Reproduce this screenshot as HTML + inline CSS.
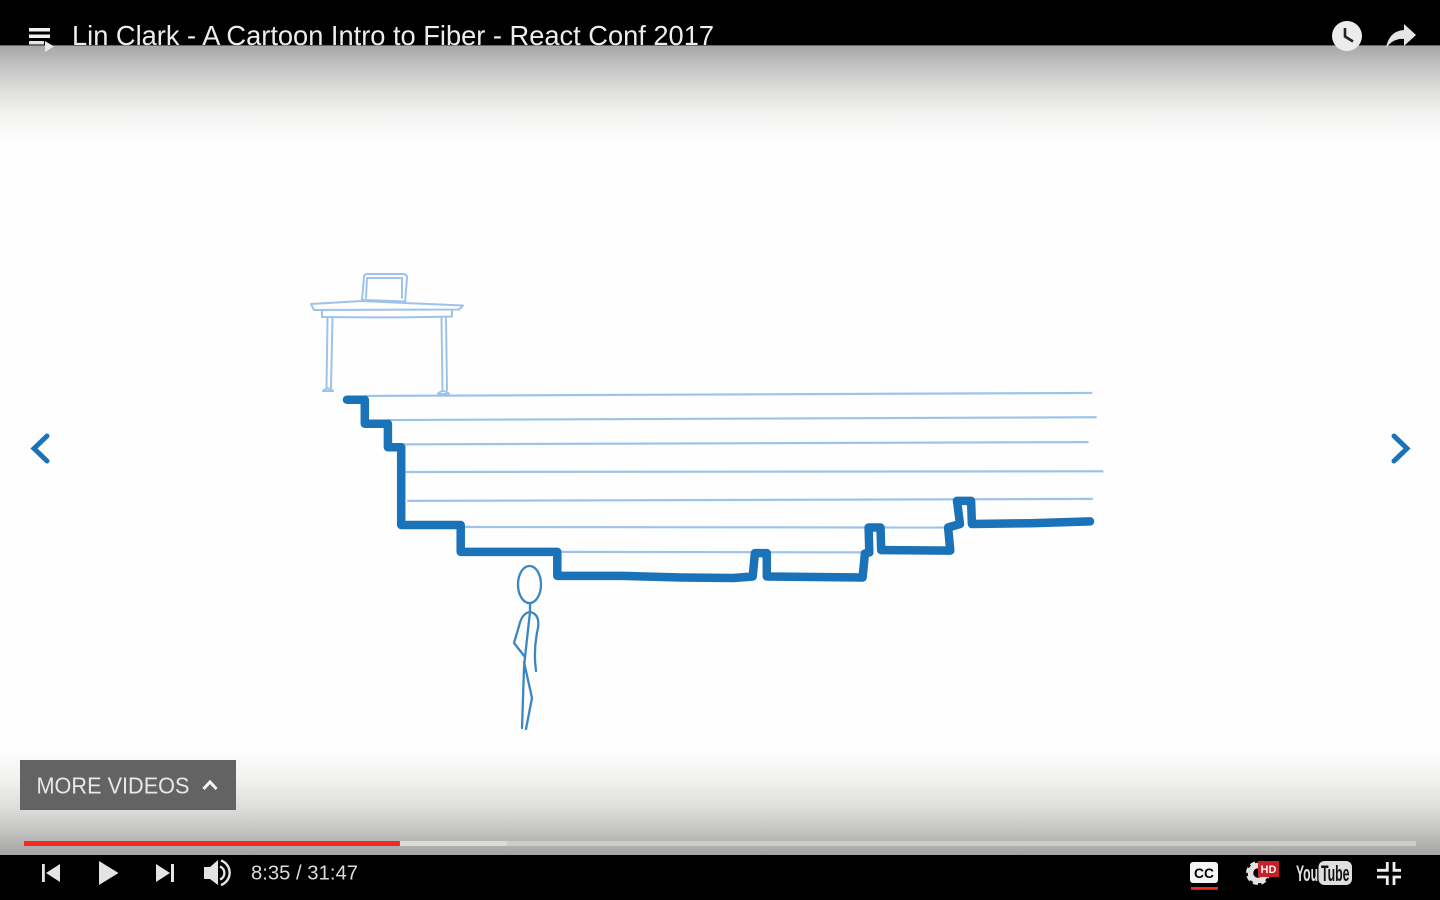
<!DOCTYPE html>
<html lang="en">
<head>
<meta charset="utf-8">
<title>Lin Clark - A Cartoon Intro to Fiber - React Conf 2017</title>
<style>
  html, body { margin: 0; padding: 0; background: #fdfefd; }
  body { width: 1440px; height: 900px; overflow: hidden; }
  svg { display: block; font-family: "Liberation Sans", sans-serif; }
</style>
</head>
<body>
<svg xmlns="http://www.w3.org/2000/svg" width="1440" height="900" viewBox="0 0 1440 900">
  <defs>
    <linearGradient id="topShade" x1="0" y1="0" x2="0" y2="1">
      <stop offset="0" stop-color="#a6a7a6"/>
      <stop offset="0.2" stop-color="#c0c1c0"/>
      <stop offset="0.45" stop-color="#dddedc"/>
      <stop offset="0.7" stop-color="#f2f3f1"/>
      <stop offset="1" stop-color="#fdfefd"/>
    </linearGradient>
    <linearGradient id="bottomShade" x1="0" y1="0" x2="0" y2="1">
      <stop offset="0" stop-color="#fdfefd"/>
      <stop offset="0.3" stop-color="#f0f1ef"/>
      <stop offset="0.6" stop-color="#d9dad8"/>
      <stop offset="0.85" stop-color="#b8b9b7"/>
      <stop offset="1" stop-color="#a3a4a3"/>
    </linearGradient>
  </defs>

  <rect x="0" y="0" width="1440" height="900" fill="#fdfefd"/>
  <rect x="0" y="46" width="1440" height="96" fill="url(#topShade)"/>
  <rect x="0" y="750" width="1440" height="105" fill="url(#bottomShade)"/>

  <!-- desk and laptop -->
  <g fill="none" stroke="#9ec3eb" stroke-width="2" stroke-linejoin="round" stroke-linecap="round">
    <path d="M311 304 L362 301 L405 303 L463 305.500 L459 309.500 L314 310 Z"/>
    <path d="M322 311 L322 317 Q390 318 452 316.500 L452 311"/>
    <path d="M327.500 318 L326.500 388 M332.500 318 L331 388 M323 391 Q328 386 333 391 Z"/>
    <path d="M441.500 318 L442.500 390 M446 318 L447 390 M438 394 Q443 388 449 394 Z"/>
    <path d="M362 300 L364 277 Q364 274 368 274 L403 274 Q407 274 407 278 L405 303"/>
    <path d="M366 298 L367 278 L402 278 L402 298"/>
    <path d="M363 300.500 L405 302" stroke-width="3"/>
  </g>

  <!-- stack chart: rows and trace are drawn by the script -->
  <g id="rows"></g>
  <path id="trace" fill="none" stroke="#1a72b8" stroke-width="8.500" stroke-linejoin="round" stroke-linecap="round"></path>

  <!-- stick figure -->
  <g fill="none" stroke="#3c87c2" stroke-width="2.300" stroke-linecap="round" stroke-linejoin="round">
    <ellipse cx="529.500" cy="584.500" rx="11.500" ry="18.500"/>
    <path d="M530 603 L530 612 L525 657 L524 668 L522 728"/>
    <path d="M530 612 Q522 613 519 626 L514 643 L525 657"/>
    <path d="M530 612 Q540 614 538 628 Q533 650 536 671"/>
    <path d="M524 662 L532 698 L526 729"/>
  </g>

  <!-- slide arrows -->
  <path d="M47 436 L34 448.500 L47 461" fill="none" stroke="#1a72b8" stroke-width="5" stroke-linecap="round"/>
  <path d="M1394 436 L1407 448.500 L1394 461" fill="none" stroke="#1a72b8" stroke-width="5" stroke-linecap="round"/>

  <!-- top bar -->
  <rect x="0" y="0" width="1440" height="46" fill="#000"/>
  <rect x="0" y="45" width="1440" height="1" fill="#666"/>
  <g>
    <rect x="29" y="28" width="21" height="3.500" fill="#f1f1f1"/>
    <rect x="29" y="34.500" width="21" height="3.500" fill="#f1f1f1"/>
    <rect x="29" y="41" width="15" height="3.500" fill="#e6e6e6"/>
    <path d="M45 41 L54 46.500 L45 52 Z" fill="#e8e8e8"/>
  </g>
  <text x="72" y="45" font-size="27.500" fill="#ededed" textLength="642" lengthAdjust="spacingAndGlyphs">Lin Clark - A Cartoon Intro to Fiber - React Conf 2017</text>
  <g>
    <circle cx="1347" cy="36" r="15" fill="#ececec"/>
    <path d="M1345 28 L1345 36.500 L1353 41.500" fill="none" stroke="#222" stroke-width="2.600"/>
  </g>
  <path d="M1404 24 L1416 35 L1404 46 L1404 39 Q1393 38 1386 48 Q1389 31 1404 30 Z" fill="#e4e4e4"/>

  <!-- more videos -->
  <rect x="20" y="760" width="216" height="50" fill="#636363"/>
  <text x="36.500" y="793.500" font-size="23.500" fill="#e8e8e8" textLength="153" lengthAdjust="spacingAndGlyphs">MORE VIDEOS</text>
  <path d="M203.500 789 L210 782 L216.500 789" fill="none" stroke="#f4f4f4" stroke-width="3"/>

  <!-- progress bar -->
  <g id="progress"></g>

  <!-- bottom controls -->
  <rect x="0" y="855" width="1440" height="45" fill="#000"/>
  <g fill="#e4e4e4">
    <rect x="42" y="864" width="2.800" height="18"/>
    <path d="M60 864 L60 882 L46 873 Z"/>
  </g>
  <path d="M99 861 L99 885 L118.500 873 Z" fill="#e4e4e4"/>
  <g fill="#e4e4e4">
    <path d="M156 864 L156 882 L170 873 Z"/>
    <rect x="171" y="864" width="3" height="18"/>
  </g>
  <g>
    <path d="M204 867 L210 867 L218 860 L218 885 L210 879 L204 879 Z" fill="#e4e4e4"/>
    <path d="M220 866.500 A7 7 0 0 1 220 879.500" fill="none" stroke="#e4e4e4" stroke-width="2.400"/>
    <path d="M221 860.500 A13 13 0 0 1 221 885" fill="none" stroke="#e4e4e4" stroke-width="2.400"/>
  </g>
  <text x="251" y="879.500" font-size="20" fill="#dcdcdc" textLength="107" lengthAdjust="spacingAndGlyphs">8:35 / 31:47</text>

  <g>
    <rect x="1190" y="862" width="28" height="21" rx="3" fill="#f5f5f5"/>
    <text x="1204" y="878" font-size="14" font-weight="bold" fill="#000" text-anchor="middle" textLength="20" lengthAdjust="spacingAndGlyphs">CC</text>
    <rect x="1191" y="887" width="27" height="2.800" fill="#ee2c24"/>
  </g>
  <g>
    <circle cx="1258" cy="873" r="7.500" fill="none" stroke="#e2e2e2" stroke-width="5.500"/>
    <circle cx="1258" cy="873" r="10.500" fill="none" stroke="#e2e2e2" stroke-width="3" stroke-dasharray="5 3.250"/>
    <rect x="1258" y="861" width="21" height="16" fill="#c8202a"/>
    <text x="1268.500" y="873" font-size="11" font-weight="bold" fill="#f4f4f4" text-anchor="middle">HD</text>
  </g>
  <g>
    <text x="1296" y="881" font-size="22" font-weight="bold" fill="#e2e2e2" textLength="22" lengthAdjust="spacingAndGlyphs">You</text>
    <rect x="1318.500" y="861" width="33.500" height="24" rx="6" fill="#dedede"/>
    <text x="1321" y="881" font-size="22" font-weight="bold" fill="#111" textLength="28.500" lengthAdjust="spacingAndGlyphs">Tube</text>
  </g>
  <path d="M1387.300 862 V870.300 H1377 M1394 862 V870.300 H1401 M1387.300 885 V877 H1377 M1394 885 V877 H1401" fill="none" stroke="#efefef" stroke-width="2.800"/>
</svg>

<script>
// Trace of the call stack: time (0-100) and stack depth (rows)
const traceTimes = [0, 2.4, 2.4, 5.5, 5.5, 7.3, 7.3, 15.3, 15.3, 28.3, 28.3, 37, 45, 52, 54.6, 54.9, 56.5, 56.5, 69.4, 69.7, 70.3, 70.2, 71.8, 71.9, 81.2, 80.9, 82.5, 82.1, 84, 84.1, 92, 100];
const traceDepths = [0.03, 0.03, 0.98, 0.98, 1.9, 1.9, 4.97, 4.97, 6.03, 6.03, 6.98, 6.98, 7.04, 7.06, 7, 6.08, 6.08, 7, 7.04, 6.1, 6.05, 5.07, 5.07, 5.96, 5.98, 5.07, 4.93, 4.02, 4.02, 4.93, 4.9, 4.83];

// Thin stack rows: depth at each end plus start and end time
const rowStarts = [2.4, 5.5, 7.3, 7.9, 8.1, 15.8, 28.3];
const rowEnds = [100.3, 100.9, 99.8, 101.8, 100.4, 81, 69.5];
const rowStartDepths = [-0.12, 0.83, 1.79, 2.88, 4.02, 5.05, 6.03];
const rowEndDepths = [-0.24, 0.72, 1.7, 2.85, 3.94, 5.07, 6.05];

// Playback state in seconds
const currentTime = 515;
const bufferedTime = 662;
const duration = 1907;

const SVG_NS = 'http://www.w3.org/2000/svg';
const xAxis = t => 347 + 7.43 * t;
const yAxis = d => 399 + 25.35 * d;
const progressAxis = s => 24 + 1392 * s / duration;

const rowsGroup = document.getElementById('rows');
rowStarts.forEach((start, i) => {
  const row = document.createElementNS(SVG_NS, 'line');
  
  
  row.setAttribute('x1', xAxis(start));
  row.setAttribute('x2', xAxis(rowEnds[i]));
  row.setAttribute('y1', yAxis(rowStartDepths[i]));
  row.setAttribute('y2', yAxis(rowEndDepths[i]));
  row.setAttribute('stroke', '#9ec3eb');
  row.setAttribute('stroke-width', '2.2');
  rowsGroup.appendChild(row);
});

document.getElementById('trace').setAttribute('d',
  traceTimes.map((t, i) => (i ? 'L' : 'M') + xAxis(t).toFixed(1) + ' ' + yAxis(traceDepths[i]).toFixed(1)).join(' '));

const progressGroup = document.getElementById('progress');
const addBar = (from, to, fill, opacity) => {
  const bar = document.createElementNS(SVG_NS, 'rect');
  
  
  bar.setAttribute('x', progressAxis(from));
  bar.setAttribute('y', 841);
  bar.setAttribute('width', progressAxis(to) - progressAxis(from));
  bar.setAttribute('height', 5);
  bar.setAttribute('fill', fill);
  bar.setAttribute('fill-opacity', opacity);
  progressGroup.appendChild(bar);
};
addBar(0, duration, '#d4d4d2', 0.75);
addBar(currentTime, bufferedTime, '#dadad9', 1);
addBar(0, currentTime, '#f12b24', 1);
</script>
</body>
</html>
